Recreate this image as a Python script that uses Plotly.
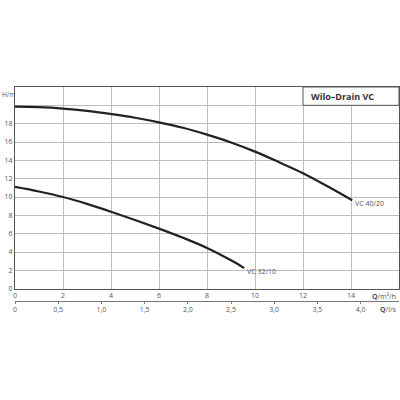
import plotly.graph_objects as go

# Data (Q in m³/h, H in m)
q_40_20 = [0, 1, 2, 3, 4, 5, 6, 7, 8, 9, 10, 11, 12, 13, 14.05]
h_40_20 = [19.85, 19.8, 19.65, 19.4, 19.05, 18.65, 18.15, 17.55, 16.8, 15.95, 14.95, 13.8, 12.6, 11.2, 9.65]

q_32_10 = [0, 1, 2, 3, 4, 5, 6, 7, 8, 9, 9.55]
h_32_10 = [11.1, 10.6, 10.0, 9.25, 8.4, 7.5, 6.55, 5.55, 4.45, 3.1, 2.25]

x_ticks = [0, 2, 4, 6, 8, 10, 12, 14]
y_ticks = [0, 2, 4, 6, 8, 10, 12, 14, 16, 18, 20]
y_ticktext = ["0", "2", "4", "6", "8", "10", "12", "14", "16", "18", ""]
ls_ticks = [0, 0.5, 1.0, 1.5, 2.0, 2.5, 3.0, 3.5, 4.0]
ls_ticktext = ["0", "0,5", "1,0", "1,5", "2,0", "2,5", "3,0", "3,5", "4,0"]

FONT = "Open Sans"
LINE = "#222222"
GRID = "#bdbdbd"
AXIS = "#555555"
TXT = "#555555"

fig = go.Figure()
fig.add_trace(go.Scatter(x=q_40_20, y=h_40_20, mode="lines",
                         line=dict(color=LINE, width=2.2, shape="spline"),
                         showlegend=False, hoverinfo="skip"))
fig.add_trace(go.Scatter(x=q_32_10, y=h_32_10, mode="lines",
                         line=dict(color=LINE, width=2.2, shape="spline"),
                         showlegend=False, hoverinfo="skip"))
# invisible trace for second axis
fig.add_trace(go.Scatter(x=[0], y=[0], xaxis="x2", yaxis="y", mode="markers",
                         marker=dict(opacity=0), showlegend=False, hoverinfo="skip"))

fig.update_layout(
    width=400, height=400,
    margin=dict(l=15, r=1, t=87, b=99),
    paper_bgcolor="white", plot_bgcolor="white",
    font=dict(family=FONT, size=7, color=TXT),
    xaxis=dict(range=[0, 16], tickvals=x_ticks, showgrid=True, gridcolor=GRID, gridwidth=1,
               zeroline=False, showline=True, linecolor=AXIS, linewidth=1, mirror=True,
               ticks="", tickfont=dict(size=7, color=TXT), anchor="y"),
    yaxis=dict(range=[0, 22], domain=[0.0575, 1], tickvals=y_ticks, ticktext=y_ticktext,
               showgrid=True, gridcolor=GRID, gridwidth=1, zeroline=False,
               showline=True, linecolor=AXIS, linewidth=1, mirror=True,
               ticks="", tickfont=dict(size=7, color=TXT)),
    xaxis2=dict(range=[0, 16 / 3.6], tickvals=ls_ticks, ticktext=ls_ticktext,
                overlaying="x", anchor="free", position=0, side="bottom",
                showgrid=False, zeroline=False, showline=True, linecolor="#777777", linewidth=1,
                ticks="outside", ticklen=2, tickcolor="#777777",
                tickfont=dict(size=7, color=TXT)),
)

# Title box
fig.add_shape(type="rect", xref="x", yref="y", x0=12, x1=16, y0=20, y1=22,
              fillcolor="white", line=dict(color=AXIS, width=1), layer="above")
fig.add_annotation(x=12.25, y=21, xref="x", yref="y", text="<b>Wilo–Drain VC</b>",
                   showarrow=False, xanchor="left", yanchor="middle",
                   font=dict(family=FONT, size=9, color="#333333"))

# Curve labels
fig.add_annotation(x=q_40_20[-1], y=h_40_20[-1], xref="x", yref="y", text="VC 40/20",
                   showarrow=False, xanchor="left", yanchor="middle", xshift=1, yshift=-3,
                   font=dict(size=7, color=TXT))
fig.add_annotation(x=q_32_10[-1], y=h_32_10[-1], xref="x", yref="y", text="VC 32/10",
                   showarrow=False, xanchor="left", yanchor="middle", xshift=1, yshift=-3,
                   font=dict(size=7, color=TXT))

# Axis titles
fig.add_annotation(x=-0.037, y=21.2, xref="paper", yref="y", text="H/m", showarrow=False,
                   xanchor="left", yanchor="middle", borderpad=0,
                   font=dict(size=6.5, color=TXT))
fig.add_annotation(x=1, y=0.0575, xref="paper", yref="paper", text="<b>Q</b>/m³/h",
                   showarrow=False, xanchor="right", yanchor="middle", yshift=-8, xshift=-1,
                   font=dict(size=7, color=TXT))
fig.add_annotation(x=1, y=0, xref="paper", yref="paper", text="<b>Q</b>/l/s",
                   showarrow=False, xanchor="right", yanchor="middle", yshift=-8, xshift=-1,
                   font=dict(size=7, color=TXT))

fig.write_html("out.html")
